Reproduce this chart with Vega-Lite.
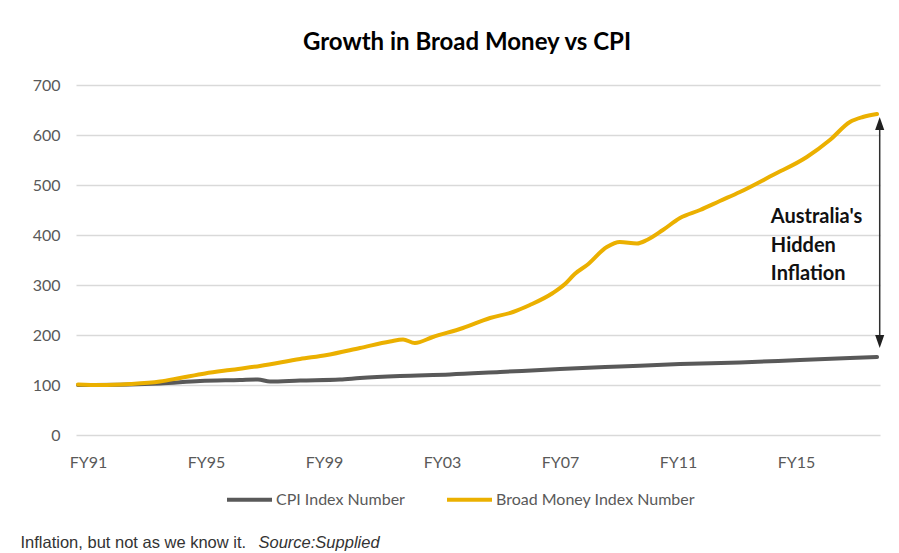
{
  "$schema": "https://vega.github.io/schema/vega-lite/v6.json",
  "width": 804,
  "height": 350,
  "autosize": {"type": "none"},
  "padding": {"left": 76, "top": 85, "right": 19, "bottom": 118},
  "background": "white",
  "title": {
    "text": "Growth in Broad Money vs CPI",
    "font": "Lato",
    "fontSize": 24,
    "fontWeight": "bold",
    "color": "#000000",
    "anchor": "middle",
    "frame": "group",
    "dx": -11,
    "offset": 3,
    "baseline": "alphabetic"
  },
  "config": {"view": {"stroke": null}},
  "datasets": {
    "series": [
      {"fy": 1990.66, "v": 100, "s": "CPI Index Number"},
      {"fy": 1992.42, "v": 101, "s": "CPI Index Number"},
      {"fy": 1993.44, "v": 103, "s": "CPI Index Number"},
      {"fy": 1994.80, "v": 108, "s": "CPI Index Number"},
      {"fy": 1996.15, "v": 110, "s": "CPI Index Number"},
      {"fy": 1996.76, "v": 111, "s": "CPI Index Number"},
      {"fy": 1997.17, "v": 107, "s": "CPI Index Number"},
      {"fy": 1998.19, "v": 109, "s": "CPI Index Number"},
      {"fy": 1999.54, "v": 111, "s": "CPI Index Number"},
      {"fy": 2000.22, "v": 114, "s": "CPI Index Number"},
      {"fy": 2001.58, "v": 118, "s": "CPI Index Number"},
      {"fy": 2003.27, "v": 121, "s": "CPI Index Number"},
      {"fy": 2004.97, "v": 126, "s": "CPI Index Number"},
      {"fy": 2007.00, "v": 132, "s": "CPI Index Number"},
      {"fy": 2009.03, "v": 137, "s": "CPI Index Number"},
      {"fy": 2011.07, "v": 142, "s": "CPI Index Number"},
      {"fy": 2013.10, "v": 145, "s": "CPI Index Number"},
      {"fy": 2015.14, "v": 150, "s": "CPI Index Number"},
      {"fy": 2016.83, "v": 154, "s": "CPI Index Number"},
      {"fy": 2017.75, "v": 156, "s": "CPI Index Number"},
      {"fy": 1990.66, "v": 101, "s": "Broad Money Index Number"},
      {"fy": 1991.41, "v": 100, "s": "Broad Money Index Number"},
      {"fy": 1992.42, "v": 102, "s": "Broad Money Index Number"},
      {"fy": 1993.44, "v": 107, "s": "Broad Money Index Number"},
      {"fy": 1994.12, "v": 114, "s": "Broad Money Index Number"},
      {"fy": 1994.97, "v": 123, "s": "Broad Money Index Number"},
      {"fy": 1995.81, "v": 130, "s": "Broad Money Index Number"},
      {"fy": 1996.83, "v": 138, "s": "Broad Money Index Number"},
      {"fy": 1998.19, "v": 152, "s": "Broad Money Index Number"},
      {"fy": 1999.10, "v": 160, "s": "Broad Money Index Number"},
      {"fy": 2000.22, "v": 174, "s": "Broad Money Index Number"},
      {"fy": 2001.24, "v": 187, "s": "Broad Money Index Number"},
      {"fy": 2001.68, "v": 191, "s": "Broad Money Index Number"},
      {"fy": 2002.08, "v": 184, "s": "Broad Money Index Number"},
      {"fy": 2002.69, "v": 196, "s": "Broad Money Index Number"},
      {"fy": 2003.71, "v": 214, "s": "Broad Money Index Number"},
      {"fy": 2004.63, "v": 234, "s": "Broad Money Index Number"},
      {"fy": 2005.41, "v": 246, "s": "Broad Money Index Number"},
      {"fy": 2005.98, "v": 260, "s": "Broad Money Index Number"},
      {"fy": 2006.76, "v": 284, "s": "Broad Money Index Number"},
      {"fy": 2007.17, "v": 302, "s": "Broad Money Index Number"},
      {"fy": 2007.50, "v": 322, "s": "Broad Money Index Number"},
      {"fy": 2007.92, "v": 340, "s": "Broad Money Index Number"},
      {"fy": 2008.59, "v": 376, "s": "Broad Money Index Number"},
      {"fy": 2009.03, "v": 386, "s": "Broad Money Index Number"},
      {"fy": 2009.61, "v": 383, "s": "Broad Money Index Number"},
      {"fy": 2009.95, "v": 390, "s": "Broad Money Index Number"},
      {"fy": 2010.49, "v": 410, "s": "Broad Money Index Number"},
      {"fy": 2011.07, "v": 434, "s": "Broad Money Index Number"},
      {"fy": 2011.75, "v": 450, "s": "Broad Money Index Number"},
      {"fy": 2012.42, "v": 468, "s": "Broad Money Index Number"},
      {"fy": 2013.10, "v": 486, "s": "Broad Money Index Number"},
      {"fy": 2014.22, "v": 520, "s": "Broad Money Index Number"},
      {"fy": 2015.37, "v": 556, "s": "Broad Money Index Number"},
      {"fy": 2016.15, "v": 590, "s": "Broad Money Index Number"},
      {"fy": 2016.83, "v": 626, "s": "Broad Money Index Number"},
      {"fy": 2017.27, "v": 636, "s": "Broad Money Index Number"},
      {"fy": 2017.75, "v": 642, "s": "Broad Money Index Number"}
    ],
    "arrow": [{"fy": 2017.84, "lo": 187, "hi": 623}],
    "heads": [
      {"fy": 2017.84, "v": 623, "dir": "up"},
      {"fy": 2017.84, "v": 187, "dir": "down"}
    ],
    "note": [{"fy": 2014.15, "v": 424, "label": "Australia's\nHidden\nInflation"}]
  },
  "layer": [
    {
      "data": {"name": "series"},
      "mark": {"type": "line", "strokeWidth": 4, "interpolate": "monotone", "strokeCap": "round"},
      "encoding": {
        "x": {
          "field": "fy",
          "type": "quantitative",
          "scale": {"domain": [1990.593, 2017.85], "nice": false, "zero": false},
          "axis": {
            "values": [1991, 1995, 1999, 2003, 2007, 2011, 2015],
            "labelExpr": "'FY' + substring(toString(datum.value), 2)",
            "grid": false,
            "domain": false,
            "ticks": false,
            "tickSize": 0,
            "labelPadding": 19,
            "labelFlush": false,
            "labelOverlap": false,
            "labelFont": "Lato",
            "labelFontSize": 16,
            "labelColor": "#595959",
            "title": "Inflation, but not as we know it.",
            "titleFont": "Liberation Sans",
            "titleFontSize": 16.5,
            "titleFontWeight": "normal",
            "titleColor": "#333333",
            "titleAlign": "left",
            "titleBaseline": "alphabetic",
            "titleX": -56,
            "titleY": 112
          }
        },
        "y": {
          "field": "v",
          "type": "quantitative",
          "scale": {"domain": [0, 700], "nice": false},
          "axis": {
            "values": [0, 100, 200, 300, 400, 500, 600, 700],
            "grid": true,
            "gridColor": "#d9d9d9",
            "gridWidth": 1.3,
            "domain": false,
            "ticks": false,
            "tickSize": 0,
            "labelPadding": 16,
            "labelFont": "Lato",
            "labelFontSize": 16,
            "labelColor": "#595959",
            "title": "Source:Supplied",
            "titleFont": "Liberation Sans",
            "titleFontSize": 16.5,
            "titleFontWeight": "normal",
            "titleFontStyle": "italic",
            "titleColor": "#333333",
            "titleAngle": 0,
            "titleAlign": "left",
            "titleBaseline": "alphabetic",
            "titleX": 182,
            "titleY": 462
          }
        },
        "color": {
          "field": "s",
          "type": "nominal",
          "scale": {"domain": ["CPI Index Number", "Broad Money Index Number"], "range": ["#595959", "#EBB000"]},
          "legend": {
            "orient": "none",
            "legendX": 149,
            "legendY": 390,
            "direction": "horizontal",
            "title": null,
            "symbolType": "stroke",
            "symbolSize": 2025,
            "symbolStrokeWidth": 4,
            "labelFont": "Lato",
            "labelFontSize": 16,
            "labelColor": "#595959",
            "labelOffset": 2,
            "labelLimit": 400,
            "columnPadding": 34
          }
        }
      }
    },
    {
      "data": {"name": "arrow"},
      "mark": {"type": "rule", "color": "#303030", "strokeWidth": 1.5},
      "encoding": {
        "x": {"field": "fy", "type": "quantitative"},
        "y": {"field": "lo", "type": "quantitative"},
        "y2": {"field": "hi"}
      }
    },
    {
      "data": {"name": "heads"},
      "mark": {"type": "point", "filled": true, "color": "#202020", "size": 169, "opacity": 1},
      "encoding": {
        "x": {"field": "fy", "type": "quantitative"},
        "y": {"field": "v", "type": "quantitative"},
        "shape": {
          "field": "dir",
          "type": "nominal",
          "scale": {"domain": ["up", "down"], "range": ["M-0.7,1L0,-1L0.7,1Z", "M-0.7,-1L0,1L0.7,-1Z"]},
          "legend": null
        }
      }
    },
    {
      "data": {"name": "note"},
      "mark": {"type": "text", "font": "Lato", "fontSize": 20, "fontWeight": "bold", "color": "#111111", "align": "left", "baseline": "alphabetic", "lineBreak": "\n", "lineHeight": 28.5},
      "encoding": {
        "x": {"field": "fy", "type": "quantitative"},
        "y": {"field": "v", "type": "quantitative"},
        "text": {"field": "label"}
      }
    }
  ]
}
